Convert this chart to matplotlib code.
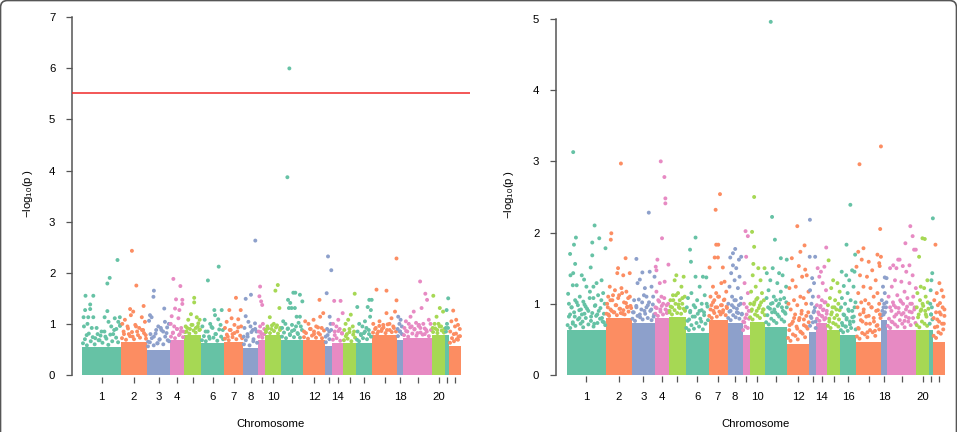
import numpy as np
import matplotlib
matplotlib.use('Agg')
import matplotlib.pyplot as plt
from matplotlib.patches import FancyBboxPatch
from matplotlib.transforms import IdentityTransform

plt.rcParams['font.family'] = ['Liberation Sans', 'DejaVu Sans']
plt.rcParams['mathtext.fontset'] = 'custom'
plt.rcParams['mathtext.rm'] = 'Liberation Sans'

# chromosome layout (relative sizes, same for both panels)
chroms = list(range(1, 23))
chrom_sizes = [39, 26, 23, 14, 17, 23, 19, 15, 7, 16, 22, 22, 7, 11, 13, 16, 25, 6, 29, 13, 4, 12]
tick_labels = ['1', '2', '3', '4', '', '6', '7', '8', '', '10', '', '12', '',
               '14', '', '16', '', '18', '', '20', '', '']
palette = ['#66C2A5', '#FC8D62', '#8DA0CB', '#E78AC3', '#A6D854']

# height up to which the SNP cloud is saturated, per chromosome
left_band = [0.55, 0.65, 0.49, 0.69, 0.78, 0.62, 0.65, 0.52, 0.69, 0.78, 0.69,
             0.69, 0.56, 0.62, 0.62, 0.62, 0.78, 0.69, 0.72, 0.78, 0.78, 0.56]
right_band = [0.63, 0.80, 0.73, 0.80, 0.82, 0.59, 0.77, 0.73, 0.56, 0.75, 0.68,
              0.44, 0.61, 0.73, 0.63, 0.56, 0.47, 0.77, 0.63, 0.63, 0.63, 0.47]

# dense speckle just above the saturated band, left to right within each chromosome
left_fringe = [
    [.62, .70, .58, .81, .66, .74, .60, .92, .68, .77, .63, .85, .71, .59, .79, .66, .88, .73, .64, .96],
    [.72, .80, .69, .91, .76, .84, .70, .95, .78, .73, .88, .82, .71],
    [.56, .64, .72, .58, .81, .62, .69, .88, .60, .75, .93, .66],
    [.75, .83, .72, .90, .78, .86, .74],
    [.84, .92, .81, .98, .87, .83, .95, .89],
    [.68, .76, .66, .85, .71, .94, .73, .80, .67, .89, .75, .70],
    [.71, .79, .68, .88, .74, .82, .70, .93, .77, .72],
    [.60, .68, .75, .58, .84, .66, .90, .63],
    [.75, .84, .73, .80],
    [.84, .91, .82, .97, .86, .93, .81, .88],
    [.75, .83, .72, .91, .78, .86, .74, .95, .80, .73, .88],
    [.74, .82, .71, .90, .77, .85, .73, .93, .79, .72, .87],
    [.64, .78, .70, .88],
    [.69, .78, .72, .86, .67, .81],
    [.68, .76, .71, .84, .66, .79, .73],
    [.69, .66, .78, .72, .85, .70, .80, .75],
    [.83, .90, .81, .96, .86, .93, .82, .99, .88, .84, .92, .85],
    [.76, .85, .80],
    [.78, .86, .75, .93, .81, .89, .77, .96, .83, .79, .91, .85, .76, .88],
    [.84, .91, .82, .95, .87, .83],
    [.85, .92],
    [.63, .72, .66, .81, .69, .76],
]
right_fringe = [
    [.70, .82, .66, .95, .74, .88, .69, 1.02, .78, .91, .72, .85, .67, .99, .80, .93, .71, 1.08, .76, .87,
     .68, .97, .83, .73, .90, .79, 1.05, .75, .86, .70],
    [.86, .95, .83, 1.05, .90, 1.12, .88, .98, .84, 1.08, .93, .87, 1.15, .91, .85, 1.01, .96, .89, 1.10, .94],
    [.79, .88, .76, .97, .83, 1.06, .81, .92, .78, 1.12, .86, .95, .80, 1.02, .90, .77, .99, .85],
    [.86, .94, .83, 1.03, .89, .97, .85, 1.08, .92, .87, 1.00],
    [.88, .96, .85, 1.05, .91, 1.12, .87, .99, .94, .86, 1.08, .93, .90],
    [.66, .76, .63, .88, .70, .82, .65, .95, .73, .86, .68, .79, .91, .64, .84, .72, 1.00, .77],
    [.83, .92, .80, 1.02, .87, .95, .82, 1.10, .89, .85, .98, .91, 1.06, .84, .94],
    [.80, .89, .77, .98, .84, 1.05, .81, .93, .87, .79, 1.00, .86],
    [.63, .74, .68, .85, .66, .79],
    [.81, .90, .78, .99, .85, 1.06, .83, .94, .80, 1.02, .88, .92, .84],
    [.74, .84, .71, .93, .79, 1.01, .76, .88, .73, .97, .82, 1.06, .78, .90, .75, .86, .95],
    [.52, .63, .48, .72, .57, .80, .55, .68, .50, .77, .61, .86, .58, .70, .53, .83, .65, .74],
    [.69, .80, .74, .90, .66],
    [.79, .88, .76, .97, .83, .91, .78, 1.02, .86],
    [.69, .79, .66, .88, .73, .95, .71, .84, .68, .91],
    [.63, .73, .60, .84, .68, .78, .62, .90, .71, .66, .81, .75, .95, .64],
    [.54, .66, .51, .77, .59, .88, .57, .72, .53, .83, .63, .95, .60, .75, .55, .69, .91, .64, .80],
    [.84, .95, .88, 1.02],
    [.69, .79, .66, .90, .74, .98, .71, .85, .68, .94, .77, 1.03, .72, .87, .67, .82, .96, .75, .89, .70,
     1.00, .80, .92, .73],
    [.70, .81, .67, .90, .75, .97, .72, .85, .69, .93],
    [.72, .85, .78],
    [.55, .67, .52, .78, .60, .88, .58, .72, .64, .83],
]

# SNPs standing out above the cloud: (chromosome, relative position, -log10 p)
left_points = [
    (1, .09, 1.55), (1, .29, 1.55), (1, .21, 1.38), (1, .21, 1.29), (1, .08, 1.27), (1, .65, 1.25),
    (1, .71, 1.90), (1, .65, 1.79), (1, .91, 2.25), (1, .04, 1.13), (1, .16, 1.13), (1, .29, 1.13),
    (1, .58, 1.13), (1, .84, 1.11), (1, .97, 1.13), (1, .14, 1.00), (1, .68, 1.04), (1, .93, 1.04),
    (1, .05, .95), (1, .25, .92), (1, .40, .80), (1, .50, .85), (1, .75, .95), (1, .88, .90),
    (1, .12, .78), (1, .34, .72), (1, .60, .75), (1, .80, .80), (1, .45, .68), (1, .98, .98),
    (2, .42, 2.43), (2, .59, 1.75), (2, .87, 1.35), (2, .35, 1.29), (2, .47, 1.24), (2, .38, 1.17),
    (2, .15, 1.08), (2, .80, 1.13), (2, .92, 1.04), (2, .05, 1.00), (2, .25, .95), (2, .55, .98),
    (2, .70, .92), (2, .10, .85), (2, .30, .80), (2, .62, .85), (2, .85, .88), (2, .45, .75), (2, .95, .78),
    (3, .30, 1.65), (3, .28, 1.53), (3, .75, 1.30), (3, .13, 1.17), (3, .20, 1.13), (3, .09, 1.06),
    (3, .49, .95), (3, .78, 1.04), (3, .95, 1.00), (3, .40, .88), (3, .60, .92), (3, .70, .85),
    (3, .15, .80), (3, .30, .75), (3, .55, .70), (3, .85, .82), (3, .05, .65), (3, .45, .62), (3, .90, .68),
    (4, .24, 1.88), (4, .74, 1.74), (4, .43, 1.48), (4, .88, 1.47), (4, .88, 1.39), (4, .67, 1.27),
    (4, .36, 1.30), (4, .12, 1.15), (4, .60, 1.11), (4, .05, 1.00), (4, .30, .95), (4, .50, .90),
    (4, .80, .92), (4, .20, .82), (4, .70, .80), (4, .95, .85),
    (5, .60, 1.51), (5, .60, 1.42), (5, .41, 1.19), (5, .75, 1.13), (5, .92, 1.08), (5, .25, 1.08),
    (5, .84, 1.01), (5, .10, .95), (5, .50, .98), (5, .35, .90), (5, .70, .92), (5, .15, .85), (5, .90, .88),
    (6, .77, 2.12), (6, .30, 1.85), (6, .58, 1.27), (6, .61, 1.17), (6, .90, 1.27), (6, .16, 1.08),
    (6, .06, .95), (6, .75, 1.09), (6, .40, 1.00), (6, .50, .92), (6, .85, .98), (6, .20, .85),
    (6, .65, .80), (6, .95, .88), (6, .35, .75),
    (7, .63, 1.51), (7, .28, 1.27), (7, .88, 1.27), (7, .40, 1.11), (7, .75, 1.09), (7, .14, 1.04),
    (7, .55, .98), (7, .05, .92), (7, .30, .88), (7, .90, .95), (7, .70, .85), (7, .45, .80), (7, .20, .75),
    (8, .82, 2.63), (8, .18, 1.49), (8, .53, 1.57), (8, .18, 1.15), (8, .36, 1.04), (8, .80, 1.01),
    (8, .10, .92), (8, .50, .95), (8, .65, .88), (8, .30, .80), (8, .90, .85), (8, .05, .75), (8, .70, .70),
    (9, .30, 1.73), (9, .20, 1.54), (9, .45, 1.44), (9, .60, 1.37), (9, .70, 1.00), (9, .30, .95),
    (9, .90, .90), (9, .10, .85), (9, .50, .80),
    (10, .80, 1.76), (10, .65, 1.65), (10, .90, 1.31), (10, .30, 1.13), (10, .55, 1.00), (10, .15, .95),
    (10, .75, .97), (10, .40, .90), (10, .95, .92), (10, .05, .88),
    (11, .38, 6.00), (11, .29, 3.87), (11, .32, 1.47), (11, .42, 1.41), (11, .36, 1.31), (11, .48, 1.31),
    (11, .63, 1.31), (11, .56, 1.61), (11, .65, 1.61), (11, .86, 1.57), (11, .97, 1.44), (11, .71, 1.14),
    (11, .86, 1.14), (11, .10, 1.05), (11, .20, 1.00), (11, .50, .98), (11, .80, 1.02), (11, .05, .92),
    (11, .30, .90), (11, .60, .88), (11, .90, .95), (11, .40, .80), (11, .75, .82),
    (12, .75, 1.47), (12, .48, 1.08), (12, .78, 1.14), (12, .92, 1.21), (12, .10, 1.05), (12, .25, 1.00),
    (12, .60, .95), (12, .35, .90), (12, .85, .92), (12, .05, .85), (12, .70, .82), (12, .50, .80),
    (13, .43, 2.32), (13, .90, 2.05), (13, .24, 1.60), (13, .67, 1.14), (13, .80, 1.00), (13, .30, .90),
    (13, .60, .85), (13, .10, .75),
    (14, .20, 1.45), (14, .78, 1.45), (14, .57, 1.08), (14, .97, 1.21), (14, .10, 1.00), (14, .40, .95),
    (14, .70, .90), (14, .25, .85), (14, .90, .82),
    (15, .90, 1.59), (15, .60, 1.18), (15, .40, 1.08), (15, .20, 1.00), (15, .75, .95), (15, .10, .88),
    (15, .50, .90), (15, .30, .80), (15, .85, .85),
    (16, .08, 1.33), (16, .73, 1.33), (16, .83, 1.47), (16, .98, 1.47), (16, .88, 1.14), (16, .93, 1.27),
    (16, .56, 1.05), (16, .20, 1.00), (16, .40, .95), (16, .65, .92), (16, .10, .85), (16, .30, .80),
    (16, .50, .82), (16, .80, .88),
    (17, .18, 1.67), (17, .58, 1.65), (17, .98, 2.28), (17, .98, 1.46), (17, .58, 1.21), (17, .92, 1.24),
    (17, .78, 1.11), (17, .05, 1.00), (17, .30, 1.05), (17, .45, .98), (17, .70, 1.00), (17, .15, .92),
    (17, .40, .90), (17, .85, .95), (17, .60, .88), (17, .25, .85),
    (18, .20, 1.14), (18, .60, 1.08), (18, .40, 1.00), (18, .80, .95), (18, .10, .90), (18, .50, .85),
    (19, .59, 1.83), (19, .77, 1.59), (19, .83, 1.47), (19, .37, 1.24), (19, .89, 1.08), (19, .26, 1.14),
    (19, .64, 1.31), (19, .10, 1.05), (19, .20, 1.00), (19, .45, 1.02), (19, .55, .98), (19, .70, 1.00),
    (19, .95, 1.00), (19, .05, .92), (19, .30, .95), (19, .40, .90), (19, .60, .92), (19, .80, .88),
    (19, .15, .85), (19, .50, .82), (19, .75, .80),
    (20, .10, 1.55), (20, .60, 1.31), (20, .85, 1.24), (20, .35, 1.14), (20, .20, 1.00), (20, .50, 1.00),
    (20, .70, .95), (20, .95, .90), (20, .05, .92), (20, .40, .88),
    (21, .80, 1.50), (21, .40, 1.27), (21, .50, 1.00), (21, .20, .92),
    (22, .35, 1.26), (22, .60, 1.08), (22, .75, .98), (22, .20, 1.05), (22, .50, .95), (22, .90, .90),
    (22, .10, .85), (22, .40, .80), (22, .80, .75), (22, .65, .70),
]

right_points = [
    (1, .16, 3.13), (1, .71, 2.10), (1, .23, 1.93), (1, .83, 1.92), (1, .65, 1.86), (1, .18, 1.83),
    (1, .08, 1.70), (1, .99, 1.78), (1, .65, 1.68), (1, .21, 1.56), (1, .61, 1.51), (1, .16, 1.43),
    (1, .09, 1.40), (1, .38, 1.40), (1, .44, 1.34), (1, .15, 1.26), (1, .25, 1.26), (1, .89, 1.33),
    (1, .76, 1.29), (1, .68, 1.24), (1, .50, 1.24), (1, .03, 1.14), (1, .33, 1.10), (1, .59, 1.17),
    (1, .80, 1.12), (1, .93, 1.15), (1, .21, 1.05), (1, .42, 1.03), (1, .68, 1.08), (1, .05, 1.00),
    (1, .12, .95), (1, .28, .98), (1, .36, .92), (1, .48, .96), (1, .55, .90), (1, .73, .98),
    (1, .86, .94), (1, .97, 1.00), (1, .08, .85), (1, .20, .82), (1, .32, .80), (1, .45, .86),
    (1, .62, .82), (1, .78, .85), (1, .90, .80), (1, .15, .72), (1, .40, .75), (1, .70, .72), (1, .95, .74),
    (2, .58, 2.97), (2, .21, 1.99), (2, .19, 1.90), (2, .76, 1.64), (2, .47, 1.50), (2, .67, 1.40),
    (2, .92, 1.43), (2, .44, 1.43), (2, .15, 1.24), (2, .35, 1.19), (2, .60, 1.22), (2, .79, 1.17),
    (2, .09, 1.10), (2, .51, 1.12), (2, .86, 1.08), (2, .25, 1.05), (2, .70, 1.02), (2, .05, 1.00),
    (2, .40, .98), (2, .95, .97), (2, .18, .92), (2, .55, .93), (2, .82, .95), (2, .30, .88),
    (2, .65, .86), (2, .10, .85),
    (3, .74, 2.28), (3, .20, 1.63), (3, .46, 1.44), (3, .78, 1.45), (3, .99, 1.38), (3, .25, 1.29),
    (3, .35, 1.34), (3, .57, 1.22), (3, .86, 1.24), (3, .64, 1.10), (3, .93, 1.10), (3, .10, 1.05),
    (3, .45, 1.02), (3, .70, .98), (3, .20, .95), (3, .55, .90), (3, .85, .92), (3, .05, .88),
    (3, .35, .85), (3, .95, .82),
    (4, .43, 3.00), (4, .69, 2.78), (4, .76, 2.48), (4, .76, 2.41), (4, .52, 1.92), (4, .19, 1.62),
    (4, .98, 1.55), (4, .07, 1.52), (4, .12, 1.47), (4, .36, 1.29), (4, .71, 1.31), (4, .12, 1.17),
    (4, .48, 1.10), (4, .25, 1.05), (4, .60, 1.00), (4, .85, .98), (4, .05, .95), (4, .40, .92), (4, .90, .90),
    (5, .45, 1.40), (5, .88, 1.38), (5, .35, 1.33), (5, .75, 1.24), (5, .55, 1.15), (5, .94, 1.10),
    (5, .25, 1.12), (5, .10, 1.05), (5, .65, 1.05), (5, .40, 1.00), (5, .80, 1.00), (5, .20, .95),
    (5, .60, .95), (5, .05, .90), (5, .95, .92),
    (6, .43, 1.93), (6, .19, 1.76), (6, .23, 1.59), (6, .43, 1.38), (6, .75, 1.38), (6, .90, 1.37),
    (6, .61, 1.24), (6, .25, 1.15), (6, .83, 1.12), (6, .10, 1.08), (6, .50, 1.05), (6, .70, 1.00),
    (6, .35, .98), (6, .05, .95), (6, .95, .96), (6, .20, .90), (6, .60, .90), (6, .80, .88),
    (6, .40, .82), (6, .15, .78), (6, .68, .75),
    (7, .60, 2.54), (7, .37, 2.32), (7, .40, 1.83), (7, .51, 1.83), (7, .32, 1.65), (7, .49, 1.65),
    (7, .75, 1.51), (7, .05, 1.51), (7, .84, 1.31), (7, .67, 1.29), (7, .23, 1.24), (7, .40, 1.15),
    (7, .93, 1.17), (7, .10, 1.10), (7, .55, 1.10), (7, .30, 1.05), (7, .80, 1.05), (7, .15, .98),
    (7, .45, .95), (7, .65, .98), (7, .95, .96), (7, .25, .90), (7, .75, .88),
    (8, .51, 1.77), (8, .36, 1.71), (8, .18, 1.65), (8, .91, 1.66), (8, .76, 1.62), (8, .36, 1.54),
    (8, .58, 1.50), (8, .24, 1.43), (8, .80, 1.38), (8, .47, 1.33), (8, .13, 1.24), (8, .69, 1.22),
    (8, .30, 1.10), (8, .55, 1.05), (8, .90, 1.08), (8, .05, 1.00), (8, .42, .95), (8, .75, .98),
    (8, .20, .90), (8, .62, .88), (8, .95, .85),
    (9, .43, 2.02), (9, .76, 1.95), (9, .52, 1.66), (9, .29, 1.29), (9, .76, 1.15), (9, .20, 1.00),
    (9, .60, .95), (9, .90, .90), (9, .40, .80), (9, .10, .75),
    (10, .29, 2.50), (10, .16, 2.01), (10, .29, 1.80), (10, .24, 1.56), (10, .55, 1.50), (10, .94, 1.50),
    (10, .20, 1.40), (10, .69, 1.33), (10, .39, 1.24), (10, .10, 1.17), (10, .78, 1.15), (10, .50, 1.08),
    (10, .30, 1.02), (10, .90, 1.05), (10, .05, 1.00), (10, .65, .98), (10, .15, .92), (10, .45, .90),
    (10, .85, .92),
    (11, .24, 4.96), (11, .30, 2.22), (11, .43, 1.90), (11, .70, 1.64), (11, .97, 1.62), (11, .33, 1.50),
    (11, .06, 1.43), (11, .62, 1.43), (11, .78, 1.40), (11, .22, 1.33), (11, .54, 1.29), (11, .94, 1.24),
    (11, .14, 1.19), (11, .70, 1.17), (11, .38, 1.10), (11, .05, 1.08), (11, .48, 1.05), (11, .85, 1.08),
    (11, .25, 1.00), (11, .62, 1.00), (11, .95, 1.02), (11, .12, .95), (11, .40, .92), (11, .75, .95),
    (11, .30, .88), (11, .55, .85), (11, .88, .88),
    (12, .45, 2.09), (12, .78, 1.82), (12, .59, 1.73), (12, .20, 1.64), (12, .52, 1.53), (12, .81, 1.48),
    (12, .88, 1.40), (12, .67, 1.38), (12, .23, 1.33), (12, .38, 1.24), (12, .09, 1.22), (12, .96, 1.17),
    (12, .59, 1.10), (12, .30, 1.05), (12, .74, 1.08), (12, .05, 1.00), (12, .45, .98), (12, .85, 1.00),
    (12, .15, .92), (12, .65, .90), (12, .35, .85), (12, .95, .88), (12, .55, .80), (12, .25, .75),
    (12, .75, .78), (12, .10, .70), (12, .45, .65), (12, .85, .68), (12, .62, .60),
    (13, .08, 2.18), (13, .05, 1.66), (13, .83, 1.66), (13, .40, 1.36), (13, .67, 1.29), (13, .10, 1.19),
    (13, .50, 1.10), (13, .30, 1.00), (13, .80, .95), (13, .60, .88), (13, .20, .82), (13, .90, .75),
    (14, .90, 1.79), (14, .12, 1.50), (14, .42, 1.45), (14, .73, 1.52), (14, .27, 1.38), (14, .58, 1.29),
    (14, .88, 1.19), (14, .20, 1.10), (14, .50, 1.05), (14, .75, 1.02), (14, .05, .98), (14, .35, .95),
    (14, .65, .92), (14, .95, .90), (14, .25, .85), (14, .55, .82), (14, .85, .80),
    (15, .10, 1.61), (15, .45, 1.33), (15, .78, 1.29), (15, .30, 1.22), (15, .95, 1.17), (15, .20, 1.08),
    (15, .60, 1.05), (15, .85, 1.00), (15, .05, .98), (15, .40, .95), (15, .70, .92), (15, .30, .85),
    (15, .55, .80), (15, .90, .78), (15, .15, .75),
    (16, .63, 2.39), (16, .39, 1.83), (16, .93, 1.69), (16, .09, 1.45), (16, .37, 1.40), (16, .74, 1.47),
    (16, .89, 1.45), (16, .56, 1.33), (16, .22, 1.25), (16, .83, 1.24), (16, .46, 1.15), (16, .10, 1.08),
    (16, .65, 1.05), (16, .30, 1.00), (16, .95, 1.02), (16, .05, .95), (16, .50, .92), (16, .75, .90),
    (16, .20, .85), (16, .40, .80), (16, .85, .82), (16, .60, .75), (16, .15, .70), (16, .35, .68),
    (17, .13, 2.96), (17, .99, 3.21), (17, .96, 2.05), (17, .08, 1.73), (17, .29, 1.78), (17, .85, 1.69),
    (17, .99, 1.66), (17, .92, 1.57), (17, .94, 1.53), (17, .22, 1.62), (17, .50, 1.59), (17, .01, 1.52),
    (17, .64, 1.47), (17, .15, 1.40), (17, .43, 1.38), (17, .78, 1.33), (17, .29, 1.24), (17, .57, 1.22),
    (17, .08, 1.15), (17, .85, 1.15), (17, .36, 1.05), (17, .70, 1.10), (17, .20, 1.02), (17, .50, 1.00),
    (17, .92, 1.00), (17, .05, .95), (17, .30, .92), (17, .62, .95), (17, .80, .90), (17, .15, .85),
    (17, .40, .82), (17, .70, .80), (17, .95, .85), (17, .25, .75), (17, .55, .72), (17, .85, .70),
    (17, .10, .65), (17, .45, .60), (17, .75, .62),
    (18, .60, 1.37), (18, .90, 1.36), (18, .30, 1.24), (18, .60, 1.15), (18, .10, 1.05), (18, .50, 1.00),
    (18, .80, .95), (18, .20, .90), (18, .40, .85),
    (19, .80, 2.09), (19, .88, 1.95), (19, .63, 1.85), (19, .99, 1.76), (19, .93, 1.76), (19, .38, 1.62),
    (19, .43, 1.62), (19, .21, 1.54), (19, .54, 1.53), (19, .32, 1.50), (19, .10, 1.50), (19, .77, 1.54),
    (19, .66, 1.45), (19, .88, 1.40), (19, .27, 1.33), (19, .49, 1.31), (19, .77, 1.29), (19, .16, 1.24),
    (19, .60, 1.17), (19, .99, 1.22), (19, .05, 1.10), (19, .35, 1.12), (19, .70, 1.08), (19, .90, 1.10),
    (19, .20, 1.02), (19, .45, 1.05), (19, .55, 1.00), (19, .80, 1.00), (19, .10, .95), (19, .30, .95),
    (19, .65, .92), (19, .95, .95), (19, .40, .88), (19, .85, .88), (19, .25, .82), (19, .50, .85),
    (19, .75, .80), (19, .15, .75), (19, .60, .76),
    (20, .49, 1.92), (20, .67, 1.91), (20, .23, 1.66), (20, .87, 1.33), (20, .36, 1.24), (20, .62, 1.22),
    (20, .10, 1.15), (20, .74, 1.10), (20, .30, 1.05), (20, .50, 1.00), (20, .90, 1.02), (20, .05, .95),
    (20, .40, .92), (20, .70, .90), (20, .20, .85), (20, .80, .82),
    (21, .95, 2.20), (21, .80, 1.43), (21, .60, 1.33), (21, .40, 1.19), (21, .30, 1.00), (21, .70, .95),
    (21, .50, .85),
    (22, .20, 1.83), (22, .53, 1.29), (22, .72, 1.19), (22, .86, 1.10), (22, .31, 1.15), (22, .58, 1.01),
    (22, .10, 1.05), (22, .40, .98), (22, .80, .95), (22, .95, .92), (22, .25, .88), (22, .65, .85),
    (22, .05, .80), (22, .50, .75), (22, .90, .72), (22, .35, .68),
]

sig_threshold = 5.52


def draw_manhattan(ax, band, fringe, points, ymax, label_x, sig=None):
    sizes = np.array(chrom_sizes, dtype=float)
    starts = np.concatenate([[0], np.cumsum(sizes)[:-1]])
    centers = starts + sizes / 2
    colors = [palette[i % len(palette)] for i in range(len(chroms))]

    ax.bar(centers, band, width=sizes, color=colors, linewidth=0, zorder=2)

    # fringe values are spread evenly along their chromosome
    fx, fy, fc = [], [], []
    for i, vals in enumerate(fringe):
        n = len(vals)
        for j, v in enumerate(vals):
            fx.append(starts[i] + (j + 0.5) / n * sizes[i])
            fy.append(v)
            fc.append(colors[i])
    ax.scatter(fx, fy, s=8, c=fc, linewidths=0, zorder=3)

    c = np.array([p[0] for p in points]) - 1
    xs = starts[c] + np.array([p[1] for p in points]) * sizes[c]
    ys = np.array([p[2] for p in points])
    ax.scatter(xs, ys, s=8, c=[colors[i] for i in c], linewidths=0, zorder=3)

    if sig is not None:
        ax.axhline(sig, color='#F02828', lw=1.1, zorder=4)

    for s in ['top', 'right', 'bottom']:
        ax.spines[s].set_visible(False)
    ax.spines['left'].set_bounds(0, ymax)
    ax.spines['left'].set_color('#555555')
    ax.spines['left'].set_linewidth(1.1)

    ax.set_xticks(centers)
    ax.set_xticklabels(tick_labels)
    ax.set_yticks(range(0, ymax + 1))
    ax.tick_params(axis='x', length=4.5, width=0.9, color='#555555', pad=7, labelsize=8.2)
    ax.tick_params(axis='y', length=4.5, width=0.9, color='#555555', pad=7.5, labelsize=8.2)

    ax.text(label_x, 0.5, r'$\mathrm{-log_{10}(p\,)}$', transform=ax.transAxes,
            rotation=90, ha='center', va='center', fontsize=8.2)
    ax.text(0.5, -0.131, 'Chromosome', transform=ax.transAxes,
            ha='center', va='center', fontsize=8.2)


fig = plt.figure(figsize=(9.57, 4.32), dpi=100)

axL = fig.add_axes([72 / 957, (432 - 376.5) / 432, 398 / 957, 364.3 / 432])
axL.set_xlim(-10, 388)
axL.set_ylim(-0.03, 7.1)
draw_manhattan(axL, left_band, left_fringe, left_points, 7, -0.111, sig=sig_threshold)

axR = fig.add_axes([556 / 957, (432 - 376.4) / 432, 400 / 957, 362.4 / 432])
axR.set_xlim(-11, 390)
axR.set_ylim(-0.02, 5.07)
draw_manhattan(axR, right_band, right_fringe, right_points, 5, -0.1175)

# rounded frame around the figure
frame = FancyBboxPatch((0.5, -60), 956, 432 + 59.5, boxstyle='round,pad=0,rounding_size=7',
                       transform=IdentityTransform(), fill=False, ec='#555555', lw=1.2)
fig.patches.append(frame)

fig.savefig('out.png', dpi=100)
